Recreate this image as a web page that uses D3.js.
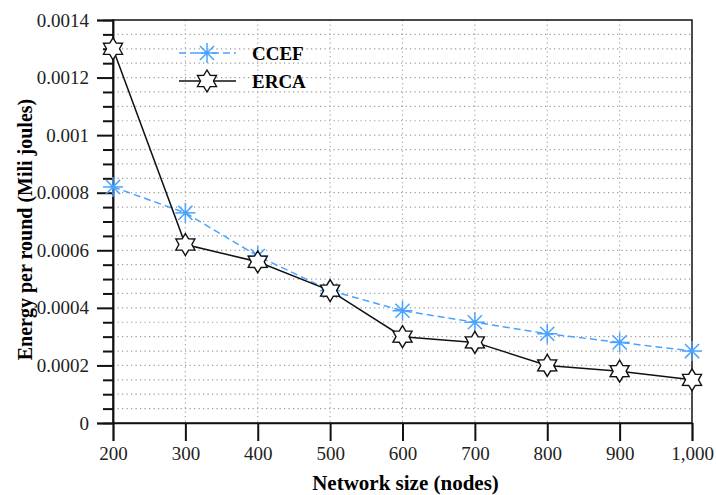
<!DOCTYPE html>
<html>
<head>
<meta charset="utf-8">
<script src="https://cdn.jsdelivr.net/npm/d3@7"></script>
<style>
  body { margin: 0; background: #fff; }
  svg, svg text { font-family: "Liberation Serif", "Times New Roman", serif; }
</style>
</head>
<body>
<div class="chart"></div>
<script>
const nodes = [200, 300, 400, 500, 600, 700, 800, 900, 1000];
const ccef = [0.00082, 0.00073, 0.00058, 0.00046, 0.00039, 0.00035, 0.00031, 0.00028, 0.00025];
const erca = [0.0013, 0.00062, 0.00056, 0.00046, 0.0003, 0.00028, 0.0002, 0.00018, 0.00015];
const yTicks = [0, 0.0002, 0.0004, 0.0006, 0.0008, 0.001, 0.0012, 0.0014];
const yTickLabels = ["0", "0.0002", "0.0004", "0.0006", "0.0008", "0.001", "0.0012", "0.0014"];

const margin = {top: 20, right: 24, bottom: 72, left: 113};
const width = 716 - margin.left - margin.right,
    height = 495 - margin.top - margin.bottom;

const svg = d3.select(".chart").append("svg")
  .attr("width", 716)
  .attr("height", 495)
  .append("g")
  .attr("transform", "translate(" + margin.left + "," + margin.top + ")");

const xScale = d3.scaleLinear().domain([200, 1000]).range([0, width]);
const yScale = d3.scaleLinear().domain([0, 0.0014]).range([height, 0]);

const minor = d3.range(0, 28).map(i => i * 0.00005);

// grid
svg.append("g").selectAll("line.h")
  .data(minor.slice(1))
  .enter().append("line")
  .attr("x1", 0).attr("x2", width)
  .attr("y1", d => yScale(d)).attr("y2", d => yScale(d))
  .attr("stroke", "#999").attr("stroke-width", 1.2)
  .attr("stroke-dasharray", "1.2,3.3");

svg.append("g").selectAll("line.v")
  .data(nodes.slice(1, -1))
  .enter().append("line")
  .attr("y1", 0).attr("y2", height)
  .attr("x1", d => xScale(d)).attr("x2", d => xScale(d))
  .attr("stroke", "#aaa").attr("stroke-width", 1.2)
  .attr("stroke-dasharray", "1.2,3.3");

// frame
svg.append("rect")
  .attr("width", width).attr("height", height)
  .attr("fill", "none").attr("stroke", "#111").attr("stroke-width", 1.5);

// y axis
const yAxis = d3.axisLeft(yScale)
  .tickValues(yTicks)
  .tickSize(16)
  .tickPadding(8)
  .tickFormat((d, i) => yTickLabels[i]);
const yg = svg.append("g").call(yAxis).attr("font-family", null);
yg.selectAll(".tick text").attr("font-size", 19).attr("fill", "#222");

const yMinor = d3.axisLeft(yScale)
  .tickValues(minor.filter((d, i) => i % 4 != 0))
  .tickSize(10)
  .tickFormat("");
svg.append("g").call(yMinor);

// x axis
const xAxis = d3.axisBottom(xScale)
  .tickValues(nodes)
  .tickSize(18)
  .tickPadding(6)
  .tickFormat(d3.format(","));
const xg = svg.append("g")
  .attr("transform", "translate(0," + height + ")")
  .call(xAxis)
  .attr("font-family", null);
xg.selectAll(".tick text").attr("font-size", 19).attr("fill", "#222");

svg.selectAll(".domain").attr("stroke", "#111").attr("stroke-width", 1.5);
svg.selectAll(".tick line").attr("stroke", "#111").attr("stroke-width", 2);

// labels
svg.append("text")
  .attr("x", width / 2 + 3)
  .attr("y", height + 67)
  .attr("text-anchor", "middle")
  .attr("font-size", 21).attr("font-weight", "bold")
  .text("Network size (nodes)");

svg.append("text")
  .attr("transform", "translate(" + (-margin.left + 32) + "," + (height / 2 + 8) + ") rotate(-90)")
  .attr("text-anchor", "middle")
  .attr("font-size", 20).attr("font-weight", "bold")
  .text("Energy per round (Mili joules)");

// lines
const line = d3.line().x((d, i) => xScale(nodes[i])).y(d => yScale(d));

const blue = "#4aa3ff";

svg.append("path")
  .datum(ccef)
  .attr("d", line)
  .attr("fill", "none").attr("stroke", blue).attr("stroke-width", 1.5)
  .attr("stroke-dasharray", "7,4");

svg.append("path")
  .datum(erca)
  .attr("d", line)
  .attr("fill", "none").attr("stroke", "#111").attr("stroke-width", 1.5);

function asterisk(g, r) {
  d3.range(8).forEach(k => {
    const a = k * Math.PI / 4;
    g.append("line")
      .attr("x1", 0).attr("y1", 0)
      .attr("x2", r * Math.cos(a)).attr("y2", r * Math.sin(a))
      .attr("stroke", blue).attr("stroke-width", 1.5);
  });
  g.append("circle").attr("r", 2.2).attr("fill", blue);
}

const starPath = (function() {
  const pts = [];
  for (let k = 0; k < 12; k++) {
    const a = -Math.PI / 2 + k * Math.PI / 6;
    const r = k % 2 == 0 ? 11 : 6.5;
    pts.push([r * Math.cos(a), r * Math.sin(a)]);
  }
  return "M" + pts.map(p => p.join(",")).join("L") + "Z";
})();

svg.append("g").selectAll("g")
  .data(ccef)
  .enter().append("g")
  .attr("transform", (d, i) => "translate(" + xScale(nodes[i]) + "," + yScale(d) + ")")
  .each(function() { asterisk(d3.select(this), 10); });

svg.append("g").selectAll("path")
  .data(erca)
  .enter().append("path")
  .attr("transform", (d, i) => "translate(" + xScale(nodes[i]) + "," + yScale(d) + ")")
  .attr("d", starPath)
  .attr("fill", "#fff").attr("stroke", "#111").attr("stroke-width", 1.4);

// legend
const lg = svg.append("g").attr("transform", "translate(66,0)");
lg.append("line")
  .attr("x1", 0).attr("x2", 57).attr("y1", 33).attr("y2", 33)
  .attr("stroke", blue).attr("stroke-width", 1.5).attr("stroke-dasharray", "7,4");
asterisk(lg.append("g").attr("transform", "translate(28,33)"), 10);
lg.append("text").attr("x", 73).attr("y", 40)
  .attr("font-size", 19).attr("font-weight", "bold").text("CCEF");

lg.append("line")
  .attr("x1", 0).attr("x2", 57).attr("y1", 61).attr("y2", 61)
  .attr("stroke", "#111").attr("stroke-width", 1.5);
lg.append("path").attr("transform", "translate(28,61)").attr("d", starPath)
  .attr("fill", "#fff").attr("stroke", "#111").attr("stroke-width", 1.4);
lg.append("text").attr("x", 73).attr("y", 68)
  .attr("font-size", 19).attr("font-weight", "bold").text("ERCA");
</script>
</body>
</html>
